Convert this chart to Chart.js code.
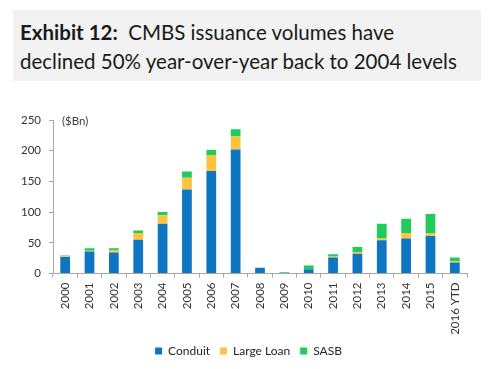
<!DOCTYPE html>
<html>
<head>
<meta charset="utf-8">
<script src="https://cdn.jsdelivr.net/npm/chart.js@4/dist/chart.umd.min.js"></script>
<style>
  html, body { margin: 0; padding: 0; background: #fff; }
  body { width: 488px; height: 369px; position: relative; overflow: hidden; font-family: Lato, "Open Sans", sans-serif; }
  #title { position: absolute; left: 13px; top: 10px; width: 468px; height: 71px; background: #F2F2F2; box-sizing: border-box; padding: 8px 0 0 7px; font-size: 20.5px; line-height: 29px; color: #1a1a1a; }
  #title b { font-weight: bold; }
  #c { position: absolute; left: 0; top: 0; }
</style>
</head>
<body>
<div id="title"><b>Exhibit 12:</b>&nbsp; CMBS issuance volumes have<br>declined 50% year-over-year back to 2004 levels</div>
<canvas id="c" width="488" height="369"></canvas>
<script>
const categories = ["2000","2001","2002","2003","2004","2005","2006","2007","2008","2009","2010","2011","2012","2013","2014","2015","2016 YTD"];
const conduit   = [27, 36, 34, 55, 81, 137, 167, 202, 9.5, 0, 7, 26, 32, 54, 57, 61, 18];
const largeLoan = [0.5, 1, 4, 11, 14, 19, 26, 21, 0, 0, 0, 1.5, 3, 3, 9, 4, 2];
const sasb      = [2, 4, 3, 4, 5, 10, 8, 12, 0, 2, 6, 4, 8, 24, 23, 32, 6];
const yTicks    = [0, 50, 100, 150, 200, 250];
const unitLabel = "($Bn)";

const unitPlugin = {
  id: 'unitLabel',
  afterLayout(chart) {
    // centre the legend under the plot as in the original
    if (chart.legend) { chart.legend.left += 15; chart.legend.right += 15; }
  },
  afterDraw(chart) {
    const ctx = chart.ctx;
    const y = chart.scales.y.getPixelForValue(250);
    ctx.save();
    ctx.font = '11.5px Lato, "Open Sans", sans-serif';
    ctx.fillStyle = '#404040';
    ctx.textBaseline = 'middle';
    ctx.fillText(unitLabel, chart.chartArea.left + 9, y + 1);
    ctx.restore();
  }
};

const font = { family: 'Lato, "Open Sans", sans-serif', size: 11.5 };
const legendFont = { family: 'Lato, "Open Sans", sans-serif', size: 12 };
new Chart(document.getElementById('c'), {
  type: 'bar',
  data: {
    labels: categories,
    datasets: [
      { label: 'Conduit', data: conduit, backgroundColor: '#0E75C2' },
      { label: 'Large Loan', data: largeLoan, backgroundColor: '#FDC33E' },
      { label: 'SASB', data: sasb, backgroundColor: '#1ECB5B' }
    ]
  },
  plugins: [unitPlugin],
  options: {
    responsive: false,
    animation: false,
    layout: { padding: { top: 120, right: 21, left: 0, bottom: 2 } },
    datasets: { bar: { categoryPercentage: 1, barPercentage: 0.4 } },
    plugins: {
      tooltip: { enabled: false },
      legend: {
        position: 'bottom',
        labels: { boxWidth: 7, boxHeight: 7, padding: 10, color: '#262626', font: legendFont }
      }
    },
    scales: {
      x: {
        stacked: true,
        grid: { display: true, drawOnChartArea: false, tickLength: 4, color: '#A6A6A6', offset: true },
        border: { color: '#A6A6A6' },
        ticks: { minRotation: 90, maxRotation: 90, color: '#333333', font: font, padding: 5 },
        afterFit(s) { s.height = 61.5; }
      },
      y: {
        stacked: true,
        min: 0, max: 250,
        afterBuildTicks(s) { s.ticks = yTicks.map(v => ({ value: v })); },
        grid: { display: true, drawOnChartArea: false, tickLength: 4, color: '#A6A6A6' },
        border: { color: '#A6A6A6' },
        ticks: { color: '#333333', font: font, padding: 8 },
        afterFit(s) { s.width = 53; }
      }
    }
  }
});
</script>
</body>
</html>
